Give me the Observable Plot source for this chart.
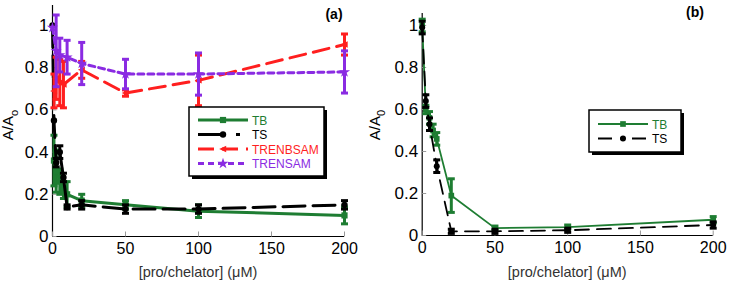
<!DOCTYPE html>
<html>
<head>
<meta charset="utf-8">
<script src="https://cdn.jsdelivr.net/npm/d3@7"></script>
<script src="https://cdn.jsdelivr.net/npm/@observablehq/plot@0.6"></script>
<style>
  html, body { margin: 0; padding: 0; background: #fff; }
  #wrap { position: relative; width: 729px; height: 283px; display: flex; overflow: hidden; }
  svg { font-family: "Liberation Sans", Arial, sans-serif; }
</style>
</head>
<body>
<div id="wrap"></div>
<script>
// ---------- data: panel (a) ----------
const aTB_x = [1, 2.5, 5, 7.5, 10, 20, 50, 100, 200];
const aTB_y = [0.36, 0.31, 0.26, 0.22, 0.20, 0.17, 0.15, 0.12, 0.10];
const aTB_e = [0.12, 0.10, 0.06, 0.04, 0.06, 0.03, 0.02, 0.03, 0.04];

const aTS_x = [0, 1, 2.5, 5, 7.5, 10, 20, 50, 100, 200];
const aTS_y = [1.0, 0.55, 0.35, 0.40, 0.28, 0.14, 0.15, 0.13, 0.13, 0.15];
const aTS_e = [0, 0, 0.02, 0.03, 0.02, 0.01, 0.02, 0.02, 0.02, 0.02];

const aRB_x = [1, 2.5, 5, 7.5, 20, 50, 100, 200];
const aRB_y = [0.69, 0.75, 0.73, 0.72, 0.79, 0.68, 0.74, 0.91];
const aRB_e = [0.08, 0.10, 0.11, 0.11, 0.04, 0.015, 0.12, 0.05];

const aRS_x = [0, 2.5, 5, 10, 20, 50, 100, 200];
const aRS_y = [0.99, 0.88, 0.86, 0.85, 0.82, 0.77, 0.77, 0.78];
const aRS_e = [0, 0.17, 0.08, 0.08, 0.10, 0.07, 0.10, 0.10];

// ---------- data: panel (b) ----------
const bTB_x = [0, 2.5, 5, 7.5, 10, 20, 50, 100, 200];
const bTB_y = [1.0, 0.60, 0.56, 0.50, 0.46, 0.19, 0.035, 0.04, 0.075];
const bTB_e = [0.03, 0.02, 0.03, 0.03, 0.03, 0.08, 0.01, 0.01, 0.015];

const bTS_x = [0, 2.5, 5, 10, 20, 50, 100, 200];
const bTS_y = [0.99, 0.64, 0.53, 0.33, 0.02, 0.02, 0.025, 0.05];
const bTS_e = [0.03, 0.03, 0.03, 0.03, 0.01, 0.01, 0.01, 0.015];

const xTicks = [0, 50, 100, 150, 200];
const yTicks = [0, 0.2, 0.4, 0.6, 0.8, 1];
const xTitle = "[pro/chelator] (\u03bcM)";

// ---------- styles ----------
const GREEN = "#1e7d32", RED = "#ff1f1f", PURPLE = "#8a2be2", BLACK = "#000";

const capSym = { draw(ctx, size) { const r = Math.sqrt(size / Math.PI); ctx.moveTo(-r, 0); ctx.lineTo(r, 0); } };
const tickSym = { draw(ctx, size) { const r = Math.sqrt(size / Math.PI); ctx.moveTo(0, 0); ctx.lineTo(2 * r, 0); } };
const tickSymV = { draw(ctx, size) { const r = Math.sqrt(size / Math.PI); ctx.moveTo(0, 0); ctx.lineTo(0, -2 * r); } };
const leftArrow = { draw(ctx, size) { const r = Math.sqrt(size / Math.PI); ctx.moveTo(-r * 1.2, 0); ctx.lineTo(r, -r); ctx.lineTo(r, r); ctx.closePath(); } };

function rows(xs, ys, es) { return xs.map((x, i) => ({ x, y: ys[i], e: es[i] })); }

function seriesMarks(data, st) {
  const bars = data.filter(d => d.e > 0);
  return [
    Plot.ruleX(bars, { x: "x", y1: d => d.y - d.e, y2: d => d.y + d.e, stroke: st.color, strokeWidth: st.ebw }),
    Plot.dot(bars, { x: "x", y: d => d.y - d.e, symbol: capSym, r: 3.5, stroke: st.color, strokeWidth: st.ebw }),
    Plot.dot(bars, { x: "x", y: d => d.y + d.e, symbol: capSym, r: 3.5, stroke: st.color, strokeWidth: st.ebw }),
    Plot.line(data, { x: "x", y: "y", stroke: st.color, strokeWidth: st.lw, strokeDasharray: st.dash }),
    Plot.dot(data, { x: "x", y: "y", symbol: st.symbol, r: st.r, fill: st.color, stroke: "none" })
  ];
}

function makePanel(opts) {
  const marks = [
    Plot.ruleY([0], { stroke: "#000", strokeWidth: 1.2 }),
    Plot.ruleX([0], { stroke: "#000", strokeWidth: 1.2 }),
    Plot.dot(yTicks, { x: () => 0, y: d => d, symbol: tickSym, r: 2, stroke: "#999", strokeWidth: 1 }),
    Plot.dot(xTicks, { x: d => d, y: () => 0, symbol: tickSymV, r: 2.5, stroke: "#999", strokeWidth: 1 }),
    Plot.text(yTicks, { x: () => 0, y: d => d, text: d => d === 0 ? "0" : d === 1 ? "1" : d3.format(".1f")(d), textAnchor: "end", dx: -4, fontSize: 17, fill: "#000" }),
    Plot.text(xTicks, { x: d => d, y: () => 0, text: d => String(d), dy: 12.5, fontSize: 16, fill: "#000" })
  ];
  for (const s of opts.series) marks.push(...seriesMarks(s.data, s.style));
  const svg = Plot.plot({
    width: opts.width, height: 283,
    marginLeft: opts.ml, marginRight: opts.mr, marginTop: opts.mt, marginBottom: opts.mb,
    x: { domain: [0, 200], axis: null },
    y: { domain: [0, opts.ymax], axis: null },
    style: { fontFamily: "Liberation Sans, Arial, sans-serif", color: "#000", background: "#fff", overflow: "visible" },
    marks
  });
  const s = d3.select(svg);
  // x title
  s.append("text").attr("x", opts.ml + (opts.width - opts.ml - opts.mr) / 2).attr("y", 277)
    .attr("text-anchor", "middle").attr("font-size", 14.5).attr("fill", "#333").text(xTitle);
  // y title with subscript
  const yt = s.append("text").attr("transform", `translate(${opts.ytx},${opts.yty}) rotate(-90)`)
    .attr("text-anchor", "middle").attr("font-size", 15).attr("fill", "#000");
  yt.append("tspan").text("A/A");
  yt.append("tspan").attr("dy", 5).attr("font-size", 11).text(opts.sub);
  // panel tag
  s.append("text").attr("x", opts.tagx).attr("y", opts.tagy).attr("text-anchor", "middle")
    .attr("font-size", 14).attr("font-weight", "bold").text(opts.tag);
  // legend
  const L = opts.legend;
  const g = s.append("g").attr("text-anchor", "start");
  g.append("rect").attr("x", L.x + 3).attr("y", L.y + 3).attr("width", L.w).attr("height", L.h).attr("fill", "#000");
  g.append("rect").attr("x", L.x).attr("y", L.y).attr("width", L.w).attr("height", L.h).attr("fill", "#fff").attr("stroke", "#000").attr("stroke-width", 1.5);
  opts.series.forEach((ser, i) => {
    const st = ser.style, yy = L.y + L.first + i * L.step;
    g.append("line").attr("x1", L.x + 9).attr("x2", L.x + 59).attr("y1", yy).attr("y2", yy)
      .attr("stroke", st.color).attr("stroke-width", st.lw).attr("stroke-dasharray", st.ldash || st.dash || null);
    const sym = typeof st.symbol === "string" ? {square: d3.symbolSquare, circle: d3.symbolCircle, star: d3.symbolStar}[st.symbol] : st.symbol;
    g.append("path").attr("transform", `translate(${L.x + 34},${yy})`).attr("d", d3.symbol(sym, Math.PI * st.r * st.r)()).attr("fill", st.color);
    g.append("text").attr("x", L.x + 63).attr("y", yy + 4.5).attr("text-anchor", "start").attr("font-size", 12).attr("fill", st.tcolor || st.color).text(ser.name);
  });
  return svg;
}

const wrap = document.getElementById("wrap");

wrap.appendChild(makePanel({
  width: 364, ml: 52, mr: 20, mt: 5, mb: 47, ymax: 1.095,
  sub: "o", ytx: 13, yty: 125, tag: "(a)", tagx: 334, tagy: 19,
  legend: { x: 189, y: 107, w: 135, h: 69, first: 13, step: 14.5 },
  series: [
    { name: "TB", data: rows(aTB_x, aTB_y, aTB_e), style: { color: GREEN, lw: 3, ebw: 3, symbol: "square", r: 3.5 } },
    { name: "TS", data: rows(aTS_x, aTS_y, aTS_e), style: { color: BLACK, lw: 3, ebw: 3, symbol: "circle", r: 3.2, dash: "22,8", ldash: "26,12,4,20" } },
    { name: "TRENBSAM", data: rows(aRB_x, aRB_y, aRB_e), style: { color: RED, lw: 3, ebw: 3, symbol: leftArrow, r: 3.2, dash: "16,8" } },
    { name: "TRENSAM", data: rows(aRS_x, aRS_y, aRS_e), style: { color: PURPLE, lw: 3, ebw: 3, symbol: "star", r: 3.5, dash: "6,4" } }
  ]
}));

wrap.appendChild(makePanel({
  width: 365, ml: 57.7, mr: 16.3, mt: 13, mb: 48, ymax: 1.057,
  sub: "0", ytx: 16, yty: 125, tag: "(b)", tagx: 331, tagy: 17,
  legend: { x: 225, y: 110, w: 92, h: 42, first: 14, step: 14.5 },
  series: [
    { name: "TB", data: rows(bTB_x, bTB_y, bTB_e), style: { color: GREEN, lw: 1.8, ebw: 3, symbol: "square", r: 3.2 } },
    { name: "TS", data: rows(bTS_x, bTS_y, bTS_e), style: { color: BLACK, lw: 1.8, ebw: 3, symbol: "circle", r: 3, dash: "14,8", ldash: "14,8,4,8" } }
  ]
}));
</script>
</body>
</html>
